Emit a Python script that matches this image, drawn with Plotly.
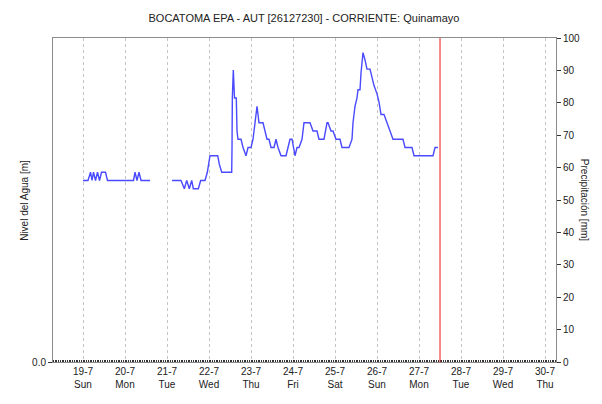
import plotly.graph_objects as go

# Water level readings (m); None marks a gap in transmission
level_time = [
    "2020-07-19 00:00", "2020-07-19 02:51", "2020-07-19 04:17", "2020-07-19 05:09",
    "2020-07-19 06:00", "2020-07-19 07:09", "2020-07-19 08:17", "2020-07-19 09:26",
    "2020-07-19 10:34", "2020-07-19 12:51", "2020-07-19 14:00", "2020-07-20 04:51",
    "2020-07-20 05:43", "2020-07-20 06:51", "2020-07-20 08:00", "2020-07-20 09:09",
    "2020-07-20 14:17", "2020-07-20 20:00",
    "2020-07-21 02:51", "2020-07-21 08:00", "2020-07-21 09:54", "2020-07-21 11:15",
    "2020-07-21 12:45", "2020-07-21 14:07", "2020-07-21 15:02", "2020-07-21 17:53",
    "2020-07-21 19:15", "2020-07-21 21:43", "2020-07-21 23:02", "2020-07-22 00:34",
    "2020-07-22 04:58", "2020-07-22 05:52", "2020-07-22 07:15", "2020-07-22 12:58",
    "2020-07-22 13:09", "2020-07-22 13:20", "2020-07-22 13:53", "2020-07-22 14:34",
    "2020-07-22 15:36", "2020-07-22 16:00", "2020-07-22 16:34", "2020-07-22 18:17",
    "2020-07-22 19:26", "2020-07-22 21:09", "2020-07-22 22:17", "2020-07-23 00:00",
    "2020-07-23 01:09", "2020-07-23 01:43", "2020-07-23 03:26", "2020-07-23 04:34",
    "2020-07-23 06:51", "2020-07-23 09:09", "2020-07-23 10:17", "2020-07-23 11:26",
    "2020-07-23 13:09", "2020-07-23 14:17", "2020-07-23 15:26", "2020-07-23 17:09",
    "2020-07-23 20:00", "2020-07-23 22:17", "2020-07-23 23:26", "2020-07-24 01:09",
    "2020-07-24 02:17", "2020-07-24 03:26", "2020-07-24 05:09", "2020-07-24 06:17",
    "2020-07-24 09:43", "2020-07-24 11:26", "2020-07-24 13:43", "2020-07-24 14:51",
    "2020-07-24 17:43", "2020-07-24 19:26", "2020-07-24 20:00", "2020-07-24 21:43",
    "2020-07-24 22:51", "2020-07-25 00:34", "2020-07-25 02:51", "2020-07-25 04:00",
    "2020-07-25 08:00", "2020-07-25 09:43", "2020-07-25 10:17", "2020-07-25 11:26",
    "2020-07-25 12:34", "2020-07-25 13:09", "2020-07-25 14:17", "2020-07-25 14:51",
    "2020-07-25 15:26", "2020-07-25 16:00", "2020-07-25 17:09", "2020-07-25 18:17",
    "2020-07-25 20:00", "2020-07-25 21:09", "2020-07-25 22:17", "2020-07-26 00:00",
    "2020-07-26 01:09", "2020-07-26 02:17", "2020-07-26 04:00", "2020-07-26 05:43",
    "2020-07-26 07:26", "2020-07-26 09:09", "2020-07-26 14:51", "2020-07-26 16:00",
    "2020-07-26 20:00", "2020-07-26 21:09", "2020-07-27 08:00", "2020-07-27 09:09",
    "2020-07-27 10:51",
]
level_m = [
    0.22, 0.22, 0.23, 0.22,
    0.23, 0.22, 0.23, 0.22,
    0.23, 0.23, 0.22, 0.22,
    0.23, 0.22, 0.23, 0.22,
    0.22, None,
    0.22, 0.22, 0.21, 0.22,
    0.21, 0.22, 0.21, 0.21,
    0.22, 0.22, 0.23, 0.25,
    0.25, 0.24, 0.23, 0.23,
    0.26, 0.32, 0.354, 0.32,
    0.32, 0.28, 0.27, 0.27,
    0.26, 0.25, 0.26, 0.26,
    0.27, 0.28, 0.31, 0.29,
    0.29, 0.27, 0.27, 0.26,
    0.26, 0.27, 0.26, 0.25,
    0.25, 0.27, 0.27, 0.25,
    0.26, 0.26, 0.27, 0.29,
    0.29, 0.28, 0.28, 0.27,
    0.27, 0.29, 0.29, 0.28,
    0.28, 0.27, 0.27, 0.26,
    0.26, 0.27, 0.29, 0.31,
    0.32, 0.33, 0.33, 0.35,
    0.37, 0.375, 0.366, 0.355,
    0.355, 0.345, 0.335, 0.325,
    0.315, 0.30, 0.30, 0.29,
    0.28, 0.27, 0.27, 0.26,
    0.26, 0.25, 0.25, 0.26,
    0.26,
]

# Daily rainfall totals (mm)
rain_day = ["2020-07-19", "2020-07-20", "2020-07-21", "2020-07-22", "2020-07-23", "2020-07-24",
            "2020-07-25", "2020-07-26", "2020-07-27"]
rain_mm = [0, 0, 0, 0, 0, 0, 0, 0, 0]

# Axis ticks
tick_days = ["2020-07-19", "2020-07-20", "2020-07-21", "2020-07-22", "2020-07-23", "2020-07-24",
             "2020-07-25", "2020-07-26", "2020-07-27", "2020-07-28", "2020-07-29", "2020-07-30"]
tick_text = ["19-7<br>Sun", "20-7<br>Mon", "21-7<br>Tue", "22-7<br>Wed", "23-7<br>Thu",
             "24-7<br>Fri", "25-7<br>Sat", "26-7<br>Sun", "27-7<br>Mon", "28-7<br>Tue",
             "29-7<br>Wed", "30-7<br>Thu"]
x_range = ["2020-07-18 06:51", "2020-07-30 06:17"]
now_mark = "2020-07-27 12:00"

FONT = "Liberation Sans, Arial, sans-serif"
AXIS_GRAY = "#8c8c8c"

fig = go.Figure()
fig.add_trace(go.Bar(x=rain_day, y=rain_mm, yaxis="y2", marker_color="#33cccc",
                     name="Precipitación", showlegend=False))
fig.add_trace(go.Scatter(x=level_time, y=level_m, mode="lines", connectgaps=False,
                         line=dict(color="#4a4aff", width=1.4), name="Nivel",
                         showlegend=False))

fig.add_shape(type="line", xref="x", yref="paper", x0=now_mark, x1=now_mark, y0=0, y1=1,
              line=dict(color="rgba(240,40,40,0.9)", width=1.2))

fig.update_layout(
    width=602, height=404,
    margin=dict(l=53, r=46, t=38, b=42),
    paper_bgcolor="white", plot_bgcolor="white",
    font=dict(family=FONT, size=10, color="#222"),
    title=dict(text="BOCATOMA EPA - AUT [26127230] - CORRIENTE: Quinamayo",
               x=0.505, xanchor="center", y=0.955, yanchor="middle",
               font=dict(family=FONT, size=11, color="#222")),
    xaxis=dict(
        type="date", range=x_range, tickvals=tick_days, ticktext=tick_text,
        showgrid=True, gridcolor="#c4c4c4", griddash="dot", gridwidth=1,
        showline=True, mirror=True, linecolor=AXIS_GRAY, linewidth=1,
        ticks="", tickfont=dict(size=10),
        minor=dict(dtick=3600000, ticks="inside", ticklen=2, tickcolor="#333",
                   showgrid=False),
        zeroline=False,
    ),
    yaxis=dict(
        range=[0, 0.3927], tickvals=[0], ticktext=["0.0"], ticks="outside",
        ticklen=4, tickcolor="#333", showgrid=False, zeroline=False,
        showline=True, linecolor=AXIS_GRAY, linewidth=1,
    ),
    yaxis2=dict(
        range=[0, 100], overlaying="y", side="right", tickvals=list(range(0, 101, 10)),
        ticks="outside", ticklen=4, tickcolor="#333", showgrid=False, zeroline=False,
        showline=True, linecolor=AXIS_GRAY, linewidth=1,
    ),
    bargap=0.2,
    annotations=[
        dict(text="Nivel del Agua [m]", textangle=-90, xref="paper", yref="paper",
             x=-0.058, y=0.5, xanchor="center", yanchor="middle", showarrow=False,
             font=dict(family=FONT, size=10, color="#222")),
        dict(text="Precipitación [mm]", textangle=90, xref="paper", yref="paper",
             x=1.058, y=0.5, xanchor="center", yanchor="middle", showarrow=False,
             font=dict(family=FONT, size=10, color="#222")),
    ],
)

fig.write_html("out.html")
